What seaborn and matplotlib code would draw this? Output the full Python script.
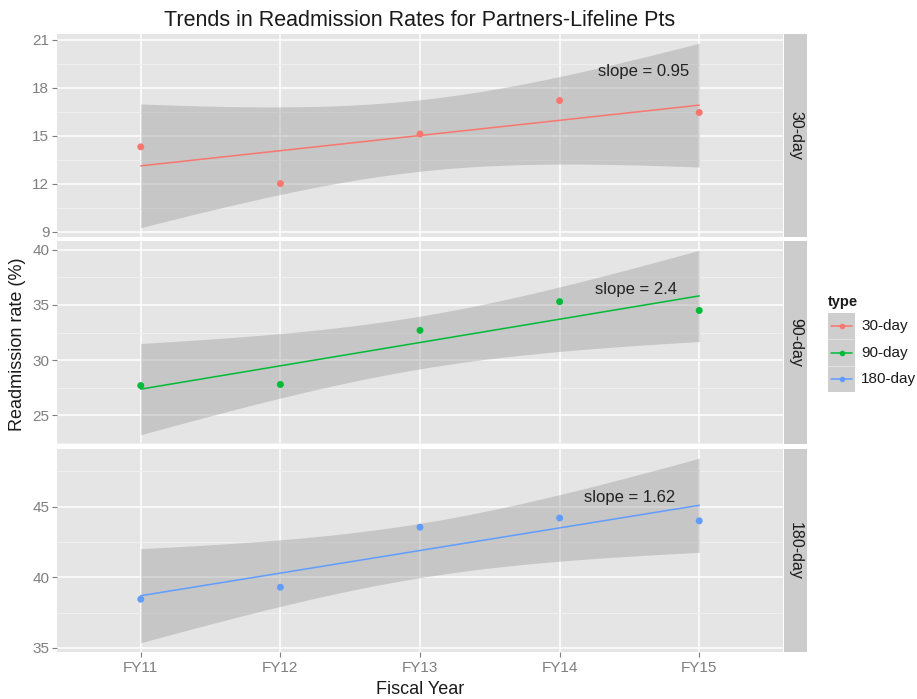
import numpy as np
import pandas as pd
import matplotlib
matplotlib.use("Agg")
import matplotlib.pyplot as plt
import seaborn as sns
from matplotlib.ticker import AutoMinorLocator, FixedLocator

# data
years = ["FY11", "FY12", "FY13", "FY14", "FY15"]
types = ["30-day", "90-day", "180-day"]
rate_30 = [14.3, 12.0, 15.1, 17.2, 16.45]
rate_90 = [27.7, 27.8, 32.7, 35.3, 34.5]
rate_180 = [38.45, 39.3, 43.55, 44.2, 44.0]
slope_labels = ["slope = 0.95", "slope = 2.4", "slope = 1.62"]
label_x = [4.6, 4.55, 4.5]
label_y = [19.0, 36.4, 45.65]
y_ticks = [[9, 12, 15, 18, 21], [25, 30, 35, 40], [35, 40, 45]]
palette = ["#F8766D", "#00BA38", "#619CFF"]

df = pd.DataFrame({
    "year": years * 3,
    "x": list(range(1, 6)) * 3,
    "type": [t for t in types for _ in years],
    "rate": rate_30 + rate_90 + rate_180,
})

sns.set_style("white")
plt.rcParams["font.family"] = ["Liberation Sans", "DejaVu Sans"]

W, H = 917, 699


def fbox(x0, y0, x1, y1):
    # pixel box (top-left origin) -> figure fraction rect
    return [x0 / W, 1 - y1 / H, (x1 - x0) / W, (y1 - y0) / H]


fig = plt.figure(figsize=(W / 100, H / 100), dpi=100)
rows = [(34, 237), (241, 444), (449, 652)]
T975_DF3 = 3.182446  # t quantile for 95% CI, n-2 = 3 dof

for i, (t, (top, bot)) in enumerate(zip(types, rows)):
    ax = fig.add_axes(fbox(57, top, 783, bot))
    ax.set_facecolor("#E5E5E5")
    sub = df[df["type"] == t]

    # linear fit + analytic confidence band (like geom_smooth(method="lm"))
    xs = sub["x"].to_numpy(float)
    ys = sub["rate"].to_numpy(float)
    b, a = np.polyfit(xs, ys, 1)
    resid = ys - (a + b * xs)
    s = np.sqrt((resid ** 2).sum() / (len(xs) - 2))
    grid = np.linspace(1, 5, 80)
    fit = a + b * grid
    se = s * np.sqrt(1 / len(xs) + (grid - xs.mean()) ** 2 / ((xs - xs.mean()) ** 2).sum())
    lo, hi = fit - T975_DF3 * se, fit + T975_DF3 * se

    ax.fill_between(grid, lo, hi, color="#999999", alpha=0.4, lw=0, zorder=2)
    sns.lineplot(x=grid, y=fit, color=palette[i], lw=1.1, ax=ax, zorder=3)
    sns.scatterplot(data=sub, x="x", y="rate", color=palette[i], s=25,
                    edgecolor="none", ax=ax, zorder=4)
    ax.text(label_x[i], label_y[i], slope_labels[i], ha="center", va="center",
            fontsize=12, color="#222222", zorder=5)

    ymin = min(lo.min(), ys.min())
    ymax = max(hi.max(), ys.max())
    pad = (ymax - ymin) * 0.05
    ax.set_ylim(ymin - pad, ymax + pad)
    ax.set_xlim(0.4, 5.6)

    ax.yaxis.set_major_locator(FixedLocator(y_ticks[i]))
    ax.yaxis.set_minor_locator(AutoMinorLocator(2))
    ax.set_xticks(range(1, 6))
    ax.grid(which="major", color="white", lw=1.1, zorder=0)
    ax.grid(which="minor", axis="y", color="#F2F2F2", lw=0.6, zorder=0)
    ax.set_axisbelow(True)
    for sp in ax.spines.values():
        sp.set_visible(False)
    ax.set_xlabel("")
    ax.set_ylabel("")
    ax.tick_params(axis="y", which="major", length=3.5, width=0.8, color="#7F7F7F",
                   labelcolor="#7F7F7F", labelsize=11, pad=2, left=True)
    ax.tick_params(axis="y", which="minor", length=0)
    if i == 2:
        ax.set_xticklabels(years)
        ax.tick_params(axis="x", length=3.5, width=0.8, color="#7F7F7F",
                       labelcolor="#7F7F7F", labelsize=11, pad=3, bottom=True)
    else:
        ax.tick_params(axis="x", length=0, labelbottom=False)

    # facet strip on the right
    st = fig.add_axes(fbox(784, top, 807, bot))
    st.set_facecolor("#CCCCCC")
    st.set_xticks([])
    st.set_yticks([])
    for sp in st.spines.values():
        sp.set_visible(False)
    st.text(0.5, 0.5, t, rotation=270, ha="center", va="center",
            fontsize=11.5, color="#1A1A1A", transform=st.transAxes)

# legend
fig.text(828 / W, 1 - 302 / H, "type", fontsize=10.5, fontweight="bold",
         ha="left", va="center", color="#1A1A1A")
lg = fig.add_axes(fbox(828, 313, 855, 392))
lg.set_facecolor("#CECECE")
lg.set_xlim(0, 1)
lg.set_ylim(0, 3)
lg.set_xticks([])
lg.set_yticks([])
for sp in lg.spines.values():
    sp.set_visible(False)
for k, t in enumerate(types):
    yk = 2.5 - k
    lg.plot([0.1, 0.9], [yk, yk], color=palette[k], lw=1.1)
    lg.plot([0.5], [yk], marker="o", ms=4, color=palette[k], mec="none")
    if k > 0:
        lg.axhline(3 - k, color="#E5E5E5", lw=0.6)
    fig.text(861 / W, 1 - (313 + (k + 0.5) * 79 / 3) / H, t, fontsize=11,
             ha="left", va="center", color="#1A1A1A")

fig.text(420 / W, 1 - 21 / H, "Trends in Readmission Rates for Partners-Lifeline Pts",
         fontsize=15.5, ha="center", va="center", color="#1A1A1A")
fig.text(420 / W, 1 - 689 / H, "Fiscal Year", fontsize=13, ha="center",
         va="center", color="#1A1A1A")
fig.text(18 / W, 1 - 344 / H, "Readmission rate (%)", fontsize=13, rotation=90,
         ha="center", va="center", color="#1A1A1A")

fig.savefig("out.png", dpi=100)
